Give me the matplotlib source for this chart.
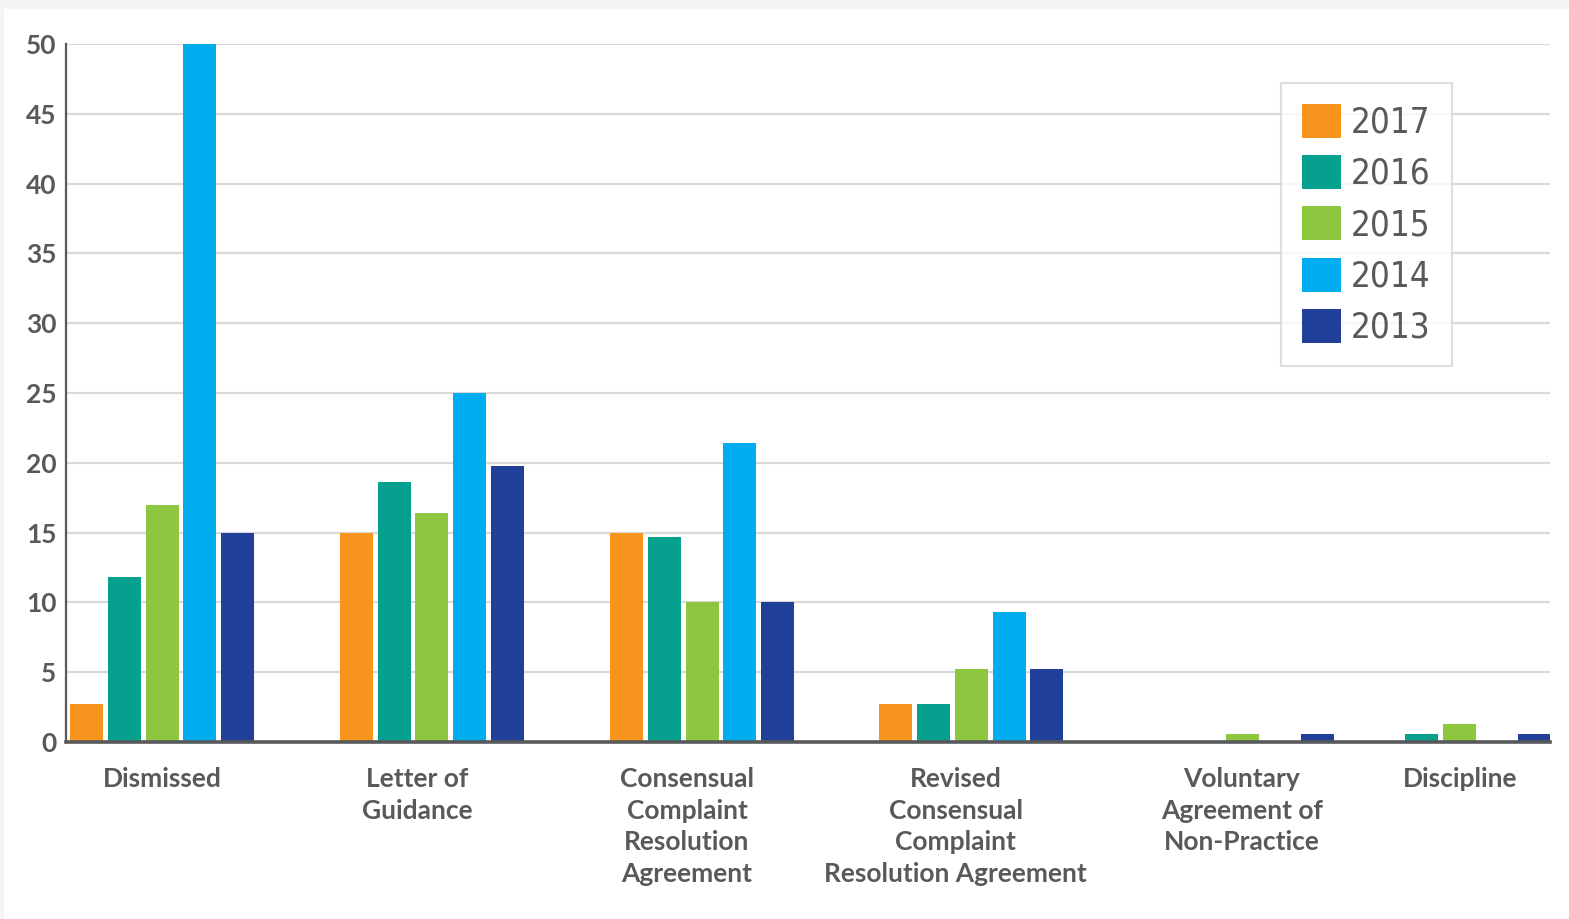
import matplotlib.pyplot as plt
from matplotlib.patches import Patch, Rectangle
from matplotlib import font_manager

# data
categories = ['Dismissed', 'Letter of\nGuidance', 'Consensual\nComplaint\nResolution\nAgreement',
              'Revised\nConsensual\nComplaint\nResolution Agreement',
              'Voluntary\nAgreement of\nNon-Practice', 'Discipline']
years = ['2017', '2016', '2015', '2014', '2013']
v2017 = [2.7, 15, 15, 2.7, 0, 0]
v2016 = [11.8, 18.6, 14.7, 2.7, 0, 0.6]
v2015 = [17, 16.4, 10, 5.2, 0.6, 1.3]
v2014 = [50, 25, 21.4, 9.3, 0, 0]
v2013 = [15, 19.8, 10, 5.2, 0.6, 0.6]
series = [v2017, v2016, v2015, v2014, v2013]
colors = ['#F7941D', '#06A08F', '#8DC63F', '#00AEEF', '#21409A']

# layout: group centres and label positions (bar-step units); uneven in the original
group_pos = [2.54, 9.68, 16.83, 23.95, 31.12, 36.86]
label_pos = [2.54, 9.29, 16.43, 23.54, 31.11, 36.88]
bar_w = 0.873
grey = '#58595B'

# pick a regular narrow font for the legend if one is installed
narrow = None
for f in font_manager.fontManager.ttflist:
    is_narrow = 'Narrow' in f.name or 'Condensed' in f.name or f.stretch in ('condensed', 'semi-condensed')
    if is_narrow and f.style == 'normal' and f.weight in (400, 'normal', 'regular', 'book'):
        narrow = f
        break
if narrow is not None:
    leg_prop = font_manager.FontProperties(fname=narrow.fname, size=25)
else:
    leg_prop = font_manager.FontProperties(family=['Liberation Sans', 'DejaVu Sans'], size=22)

fig = plt.figure(figsize=(15.69, 9.19), dpi=100)
fig.patch.set_facecolor('#F5F5F5')
fig.patches.append(Rectangle((4 / 1569, 0), 1, 1 - 9 / 919, transform=fig.transFigure,
                             facecolor='white', edgecolor='none', zorder=-5))

ax = fig.add_axes([66 / 1569, 177 / 919, 1484 / 1569, 698 / 919])
ax.set_facecolor('none')

for i, (vals, c, yr) in enumerate(zip(series, colors, years)):
    xs = [g + (i - 2) for g in group_pos]
    ax.bar(xs, vals, width=bar_w, color=c, label=yr, zorder=3)

ax.set_xlim(0, 39.26)
ax.set_ylim(0, 50)
ax.set_yticks(range(0, 51, 5))
ax.yaxis.grid(True, color='#DADADA', linewidth=1.6, zorder=0)
ax.set_axisbelow(True)

ax.set_xticks(label_pos)
ax.set_xticklabels(categories, linespacing=1.38)

for lab in ax.get_xticklabels() + ax.get_yticklabels():
    lab.set_family(['Lato', 'DejaVu Sans'])
    lab.set_fontweight('bold')
    lab.set_fontsize(19)
    lab.set_color(grey)
ax.tick_params(axis='x', length=0, pad=18)
ax.tick_params(axis='y', length=0, pad=7)

for s in ['top', 'right']:
    ax.spines[s].set_visible(False)
ax.spines['left'].set_color(grey)
ax.spines['left'].set_linewidth(1.6)
ax.spines['bottom'].set_color(grey)
ax.spines['bottom'].set_linewidth(2.6)
ax.spines['bottom'].set_zorder(4)

handles = [Patch(facecolor=c, edgecolor='none') for c in colors]
leg = fig.legend(handles, years, loc='upper left',
                 bbox_to_anchor=(1281 / 1569, 1 - 83 / 919),
                 prop=leg_prop,
                 handlelength=1.12, handleheight=1.12, handletextpad=0.3,
                 labelspacing=0.45, borderpad=0.6, borderaxespad=0,
                 frameon=True, fancybox=False, shadow=False)
leg.get_frame().set_edgecolor('#D6D6D6')
leg.get_frame().set_linewidth(1.5)
for t in leg.get_texts():
    t.set_color(grey)

plt.savefig('out.png', dpi=100)
